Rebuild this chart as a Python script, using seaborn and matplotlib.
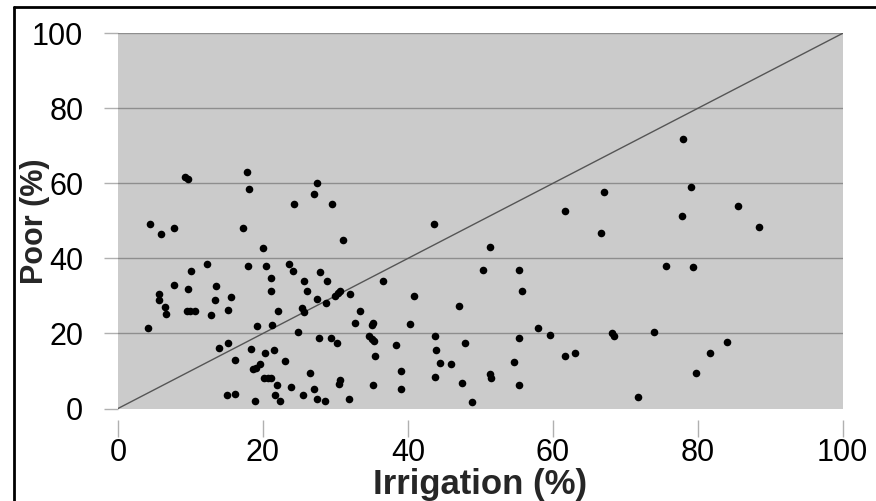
import matplotlib
matplotlib.use("Agg")
import matplotlib.pyplot as plt
import seaborn as sns
import pandas as pd
from matplotlib.lines import Line2D

irrigation = [
    9.3, 9.7, 17.8, 18.1, 24.3, 4.4, 5.9, 7.7, 17.3, 20.0, 12.3, 10.1, 18.0, 20.4, 23.6, 24.1,
    21.1, 21.1, 7.7, 9.6, 13.5, 5.6, 5.7, 13.4, 15.6, 6.5, 6.6, 9.5, 10.0, 10.6, 12.8, 15.2,
    22.1, 4.2, 19.2, 21.2, 24.8, 15.2, 13.9, 18.3, 20.3, 21.5, 16.2, 23.0, 18.6, 19.0, 19.6,
    20.2, 20.7, 21.1, 21.9, 23.9, 15.1, 16.2, 18.9, 21.6, 22.4,
    27.4, 27.0, 29.5, 43.6, 31.1, 25.7, 27.9, 28.8, 26.1, 27.4, 28.7, 30.0, 30.3, 30.6, 32.0,
    36.6, 40.8, 47.1, 25.4, 25.6, 33.4, 32.7, 35.0, 35.2, 40.3, 27.8, 29.4, 30.2, 34.7, 35.0,
    35.3, 38.4, 43.8, 43.9, 47.9, 35.4, 44.5, 46.0, 26.5, 39.0, 30.7, 30.5, 43.8, 47.4, 27.0,
    35.2, 39.0, 25.5, 27.5, 28.6, 31.9, 48.8,
    67.1, 61.7, 66.6, 51.4, 50.3, 55.4, 55.7, 57.9, 59.6, 55.4, 68.2, 68.4, 73.9, 61.7, 63.1,
    54.7, 51.4, 51.5, 55.4, 71.7,
    77.9, 79.0, 85.6, 77.8, 88.4, 75.6, 79.3, 84.0, 81.7, 79.8,
]
poor = [
    61.6, 61.1, 62.9, 58.4, 54.4, 49.1, 46.5, 48.1, 48.2, 42.9, 38.5, 36.6, 37.9, 38.0, 38.6, 36.7,
    34.9, 31.4, 32.8, 31.9, 32.7, 30.4, 29.0, 28.8, 29.7, 27.0, 25.1, 25.9, 25.9, 25.9, 25.0, 26.2,
    25.9, 21.4, 22.1, 22.2, 20.3, 17.4, 16.2, 15.8, 14.9, 15.6, 12.8, 12.6, 10.5, 10.9, 11.9,
    8.2, 8.2, 8.2, 6.3, 5.7, 3.6, 3.9, 2.0, 3.7, 1.9,
    60.1, 57.2, 54.4, 49.3, 45.0, 34.1, 36.4, 34.0, 31.2, 29.3, 28.2, 30.1, 30.7, 31.2, 30.4,
    34.0, 29.9, 27.4, 26.7, 25.8, 26.1, 22.7, 22.2, 22.7, 22.6, 18.8, 18.9, 17.5, 19.2, 18.5,
    17.9, 17.0, 19.3, 15.7, 17.4, 13.9, 12.2, 11.8, 9.5, 10.0, 7.6, 6.6, 8.4, 6.9, 5.2,
    6.3, 5.2, 3.5, 2.6, 2.0, 2.6, 1.7,
    57.7, 52.6, 46.7, 43.1, 36.9, 37.0, 31.2, 21.4, 19.6, 18.8, 20.1, 19.2, 20.5, 13.9, 14.7,
    12.4, 9.1, 8.2, 6.3, 3.1,
    71.9, 59.0, 53.9, 51.3, 48.5, 38.0, 37.6, 17.6, 14.8, 9.5,
]
ticks = [0, 20, 40, 60, 80, 100]
diag_x = [0, 100]
diag_y = [0, 100]

sns.set_theme(style="white")
plt.rcParams["font.family"] = ["Liberation Sans", "DejaVu Sans"]

df = pd.DataFrame({"Irrigation (%)": irrigation, "Poor (%)": poor})

fig = plt.figure(figsize=(8.76, 5.01), dpi=100)
ax = fig.add_axes([118 / 876, 1 - 408.5 / 501, (842.7 - 118) / 876, (408.5 - 33.3) / 501])
ax.set_facecolor("#cbcbcb")

for t in ticks[1:]:
    ax.axhline(t, color="#8e8e8e", lw=1.0, zorder=1)
ax.plot(diag_x, diag_y, color="#555555", lw=1.0, zorder=2)

sns.scatterplot(data=df, x="Irrigation (%)", y="Poor (%)", ax=ax, color="black",
                s=30, marker="o", linewidth=0, zorder=3)

ax.set_xlim(0, 100)
ax.set_ylim(0, 100)
ax.set_xticks(ticks)
ax.set_yticks(ticks)
ax.set_xticklabels([str(t) for t in ticks])
ax.set_yticklabels([str(t) for t in ticks])
ax.tick_params(axis="both", labelsize=22, colors="black", direction="out")
ax.tick_params(axis="x", length=12, width=1, color="#b0b0b0", pad=1)
ax.tick_params(axis="y", length=10, width=1, color="#b0b0b0", pad=15)
ax.xaxis.set_ticks_position("bottom")
ax.yaxis.set_ticks_position("left")
for s in ["top", "right", "left"]:
    ax.spines[s].set_visible(False)
ax.spines["bottom"].set_position(("outward", 8))
ax.spines["bottom"].set_color("none")

ax.set_xlabel("Irrigation (%)", fontsize=25, fontweight="bold")
ax.xaxis.set_label_coords(0.5, -0.158)
ax.set_ylabel("Poor (%)", fontsize=22, fontweight="bold")
ax.yaxis.set_label_coords(-0.094, 0.5)

# figure frame lines (top and left)
fig.add_artist(Line2D([14 / 876, 1.0], [1 - 7 / 501, 1 - 7 / 501], transform=fig.transFigure,
                      color="black", lw=2))
fig.add_artist(Line2D([14 / 876, 14 / 876], [0.0, 1 - 7 / 501], transform=fig.transFigure,
                      color="black", lw=2))

fig.savefig("out.png", dpi=100, facecolor="white")
